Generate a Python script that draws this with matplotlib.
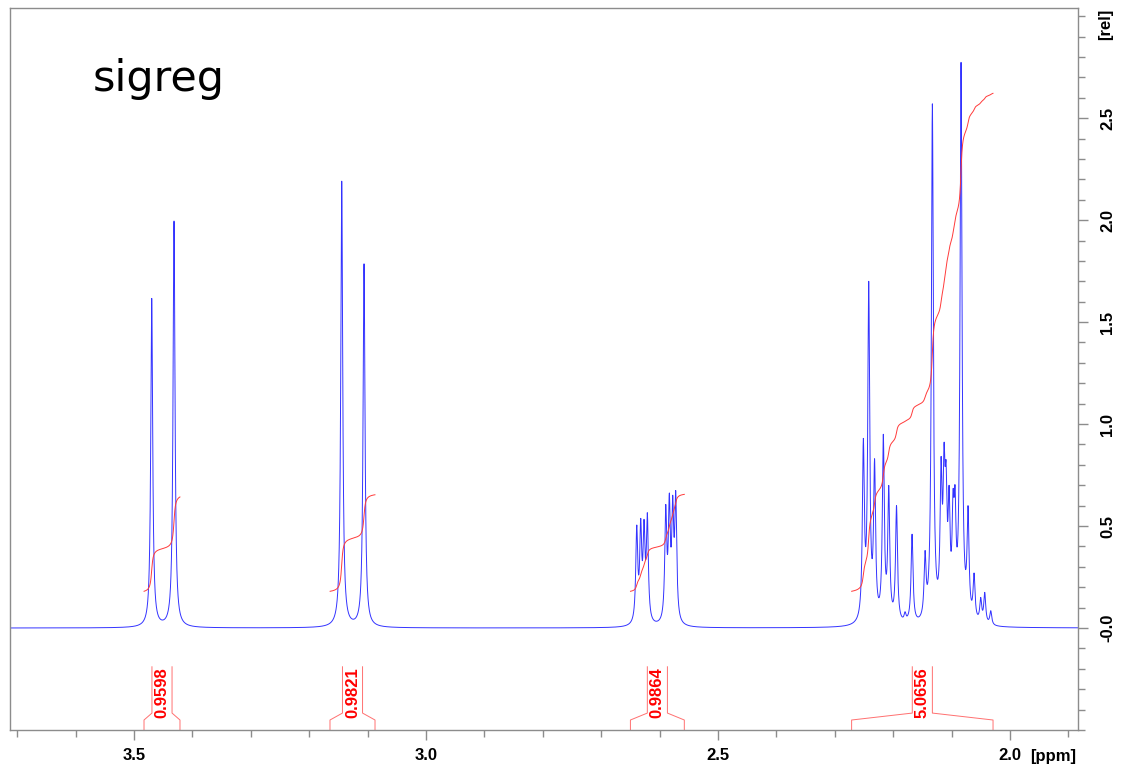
import numpy as np
import matplotlib
matplotlib.use('Agg')
import matplotlib.pyplot as plt
from matplotlib.ticker import MultipleLocator

plt.rcParams['font.family'] = ['Liberation Sans', 'DejaVu Sans']

# Peak list: shift [ppm] and apparent height [rel]
peak_ppm = [3.4698, 3.4316,
            3.1444, 3.1062,
            2.6392, 2.6324, 2.6267, 2.6210, 2.5895, 2.5834, 2.5776, 2.5724,
            2.2511, 2.2419, 2.2319, 2.2169, 2.2076, 2.1943, 2.1797, 2.1741,
            2.1677, 2.1454, 2.1329, 2.1180, 2.1129, 2.1095, 2.1043, 2.0975,
            2.0941, 2.0838, 2.0718, 2.0615, 2.0501, 2.0432, 2.0329]
peak_height = [1.62, 2.00,
               2.196, 1.79,
               0.505, 0.538, 0.533, 0.565, 0.606, 0.663, 0.652, 0.673,
               0.93, 1.70, 0.83, 0.95, 0.70, 0.60, 0.08, 0.07,
               0.46, 0.38, 2.57, 0.84, 0.91, 0.82, 0.70, 0.68,
               0.70, 2.78, 0.60, 0.27, 0.15, 0.175, 0.085]
HALF_WIDTH = 0.002  # ppm

# Integral regions
int_start = [3.4830, 3.1645, 2.6500, 2.2712]
int_end = [3.4214, 3.0874, 2.5577, 2.0290]
int_value = [0.9598, 0.9821, 0.9864, 5.0656]
INT_SCALE = 0.482
INT_OFFSET = 0.18

y_ticks = [0.0, 0.5, 1.0, 1.5, 2.0, 2.5]
y_tick_labels = ['-0.0', '0.5', '1.0', '1.5', '2.0', '2.5']
x_ticks = [3.5, 3.0, 2.5, 2.0]
x_tick_labels = ['3.5', '3.0', '2.5', '2.0']

XLIM = (3.7125, 1.8835)
YLIM = (-0.5, 3.04)

BLUE = '#3333ff'
RED = '#ff3a3a'
BRACKET = '#ff7070'
FRAME = '#8c8c8c'


def lorentz(x, x0, g):
    return g**2 / (g**2 + (x - x0)**2)


# Build spectrum (amplitudes solved so the summed curve hits the read heights)
ppm = np.arange(XLIM[0], XLIM[1], -0.0002)
pos = np.array(peak_ppm)
A = lorentz(pos[:, None], pos[None, :], HALF_WIDTH)
amps = np.linalg.solve(A, np.array(peak_height))
spec = np.zeros_like(ppm)
for p, a in zip(pos, amps):
    spec += a * lorentz(ppm, p, HALF_WIDTH)

fig = plt.figure(figsize=(11.25, 7.67), dpi=100)
ax = fig.add_axes([10 / 1125, 1 - 730 / 767, 1068 / 1125, 722 / 767])

ax.plot(ppm, spec, color=BLUE, lw=0.7)

# Integrals
for s, e, val in zip(int_start, int_end, int_value):
    m = (ppm <= s) & (ppm >= e)
    cum = np.cumsum(spec[m])
    curve = INT_OFFSET + INT_SCALE * val * cum / cum[-1]
    ax.plot(ppm[m], curve, color=RED, lw=0.7)

    c = (s + e) / 2
    w = 0.0172
    ax.plot([s, s, c + w, c + w], [-0.5, -0.451, -0.417, -0.19], color=BRACKET, lw=0.7)
    ax.plot([e, e, c - w, c - w], [-0.5, -0.451, -0.417, -0.19], color=BRACKET, lw=0.7)
    ax.text(c, -0.319, f'{val:.4f}', rotation=90, ha='center', va='center',
            color='#ff0000', fontsize=12, fontweight='bold')

ax.set_xlim(*XLIM)
ax.set_ylim(*YLIM)

ax.set_xticks(x_ticks, x_tick_labels)
ax.xaxis.set_minor_locator(MultipleLocator(0.1))
ax.yaxis.tick_right()
ax.set_yticks(y_ticks, y_tick_labels)
ax.yaxis.set_minor_locator(MultipleLocator(0.1))

ax.tick_params(axis='both', which='both', direction='out', color=FRAME, width=1)
ax.tick_params(axis='both', which='major', length=7, labelsize=12)
ax.tick_params(axis='both', which='minor', length=5)
ax.tick_params(axis='x', pad=6)
ax.tick_params(axis='y', pad=9, labelrotation=90)
for lab in ax.get_xticklabels() + ax.get_yticklabels():
    lab.set_fontweight('bold')
for lab in ax.get_yticklabels():
    lab.set_verticalalignment('center')

for sp in ax.spines.values():
    sp.set_color(FRAME)
    sp.set_linewidth(1)

fig.text(1030 / 1125, 1 - 757 / 767, '[ppm]', ha='left', va='center',
         fontsize=12, fontweight='bold')
fig.text(1106 / 1125, 1 - 24 / 767, '[rel]', ha='center', va='center',
         rotation=90, fontsize=12, fontweight='bold')
fig.text(93 / 1125, 1 - 91 / 767, 'sigreg', ha='left', va='baseline',
         fontsize=31, family='DejaVu Sans')

fig.savefig('out.png', dpi=100)
